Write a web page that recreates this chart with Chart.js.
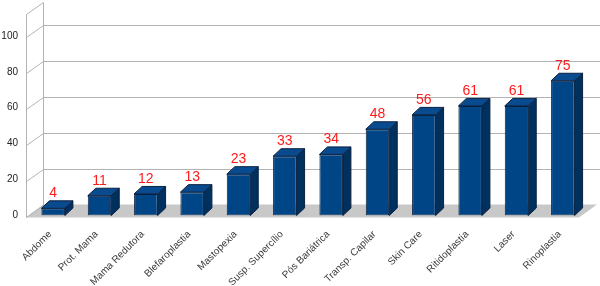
<!DOCTYPE html>
<html><head><meta charset="utf-8">
<script src="https://cdn.jsdelivr.net/npm/chart.js@4"></script>
<style>html,body{margin:0;padding:0;background:#fff}#wrap{width:600px;height:286px}</style>
</head><body><div id="wrap"><canvas id="c" width="600" height="286"></canvas></div>
<script>
const categories = ["Abdome","Prot. Mama","Mama Redutora","Blefaroplastia","Mastopexia","Susp. Supercílio","Pós Bariátrica","Transp. Capilar","Skin Care","Ritidoplastia","Laser","Rinoplastia"];
const values = [4,11,12,13,23,33,34,48,56,61,61,75];
const yTicks = [0,20,40,60,80,100];
const yMax = 113;

const FONT = '"Liberation Sans", Arial, sans-serif';

const threeD = {
  id: 'threeD',
  beforeDatasetsDraw(chart) {
    const {ctx, scales: {y}} = chart;
    const fx = 26, bx = 43, fOff = 1.5, bOff = -11;
    const y0 = y.getPixelForValue(0);
    ctx.save();
    ctx.fillStyle = '#c8c8c8';
    ctx.beginPath();
    ctx.moveTo(fx, y0 + 2);
    ctx.lineTo(579, y0 + 2);
    ctx.lineTo(597, y0 + bOff);
    ctx.lineTo(bx, y0 + bOff);
    ctx.closePath();
    ctx.fill();
    ctx.strokeStyle = '#b3b3b3';
    ctx.lineWidth = 1;
    ctx.beginPath();
    yTicks.concat([yMax]).forEach(v => {
      const p = y.getPixelForValue(v);
      const yf = Math.round(p + fOff) + 0.5, yb = Math.round(p + bOff) + 0.5;
      ctx.moveTo(fx + 0.5, yf); ctx.lineTo(bx + 0.5, yb);
      if (v > 0 && v <= 100) { ctx.moveTo(bx + 0.5, yb); ctx.lineTo(600, yb); }
    });
    const pt = y.getPixelForValue(yMax);
    ctx.moveTo(bx + 0.5, Math.round(pt + bOff) + 0.5); ctx.lineTo(bx + 0.5, Math.round(y0 + bOff) + 0.5);
    ctx.moveTo(fx + 0.5, Math.round(pt + fOff) + 0.5); ctx.lineTo(fx + 0.5, Math.round(y0 + fOff) + 0.5);
    ctx.stroke();
    ctx.restore();
  },
  afterDatasetsDraw(chart) {
    const {ctx} = chart;
    const meta = chart.getDatasetMeta(0);
    const dx = 8, dy = -7.5;
    ctx.save();
    ctx.lineWidth = 1;
    ctx.strokeStyle = '#0b2140';
    meta.data.forEach((bar, i) => {
      const l = bar.x - bar.width / 2, r = bar.x + bar.width / 2, t = bar.y, b = bar.base;
      ctx.fillStyle = '#00315e';
      ctx.beginPath();
      ctx.moveTo(r, t); ctx.lineTo(r + dx, t + dy); ctx.lineTo(r + dx, b + dy); ctx.lineTo(r, b); ctx.closePath();
      ctx.fill(); ctx.stroke();
      ctx.fillStyle = '#0a4a8e';
      ctx.beginPath();
      ctx.moveTo(l, t); ctx.lineTo(l + dx, t + dy); ctx.lineTo(r + dx, t + dy); ctx.lineTo(r, t); ctx.closePath();
      ctx.fill(); ctx.stroke();
    });
    ctx.fillStyle = '#ff1a1a';
    ctx.font = '14px ' + FONT;
    ctx.textAlign = 'center';
    ctx.textBaseline = 'alphabetic';
    meta.data.forEach((bar, i) => {
      ctx.fillText(String(values[i]), bar.x, bar.y - 11);
    });
    ctx.restore();
  }
};

new Chart(document.getElementById('c'), {
  type: 'bar',
  data: {
    labels: categories,
    datasets: [{
      data: values,
      backgroundColor: '#004586',
      borderColor: '#0b2140',
      borderWidth: 1,
      borderSkipped: false,
      barPercentage: 0.507,
      categoryPercentage: 1
    }]
  },
  options: {
    responsive: false,
    animation: false,
    devicePixelRatio: 1,
    layout: {autoPadding: false, padding: {top: 12.5, right: 14, left: 0, bottom: 0}},
    plugins: {legend: {display: false}, tooltip: {enabled: false}},
    scales: {
      x: {
        grid: {display: false, drawTicks: false},
        border: {display: false},
        ticks: {autoSkip: false, maxRotation: 45, minRotation: 45, padding: 13, labelOffset: -3, color: '#3a3a3a', font: {size: 10, family: FONT}},
        afterFit: s => { s.height = 70.5; }
      },
      y: {
        min: 0, max: yMax,
        afterBuildTicks: s => { s.ticks = yTicks.map(v => ({value: v})); },
        grid: {display: false, drawTicks: false},
        border: {display: false},
        ticks: {padding: 12, color: '#222', font: {size: 10, family: FONT}},
        afterFit: s => { s.width = 30; s.paddingTop = 0; s.paddingBottom = 0; }
      }
    }
  },
  plugins: [threeD]
});
</script>
</body></html>
